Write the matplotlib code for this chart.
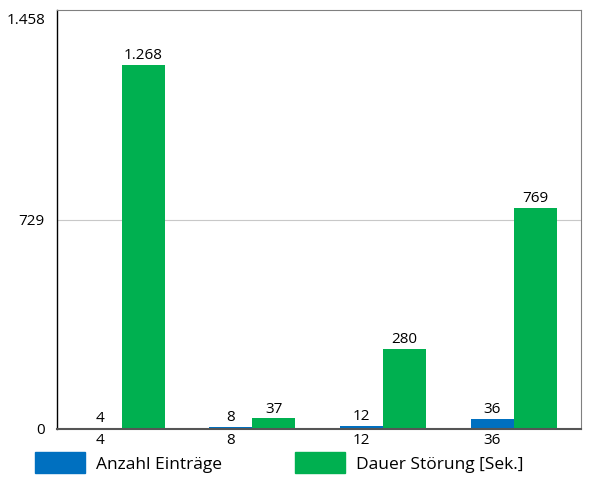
import matplotlib
matplotlib.use("Agg")
import matplotlib.pyplot as plt
from matplotlib.patches import Patch
import numpy as np

categories = ["4", "8", "12", "36"]
anzahl = [4, 8, 12, 36]
dauer = [1268, 37, 280, 769]
yticks = [0, 729, 1458]
ytick_labels = ["0", "729", "1.458"]
series_names = ["Anzahl Einträge", "Dauer Störung [Sek.]"]

blue = "#0070C0"
green = "#00B050"

plt.rcParams['font.family'] = ['Open Sans', 'DejaVu Sans']

def de(v):
    return f"{v:,}".replace(",", ".")

fig = plt.figure(figsize=(5.93, 4.92), dpi=100)
ax = fig.add_axes([57/593, 63/492, (581-57)/593, (429-10)/492])

x = np.arange(len(categories))
w = 0.33
b1 = ax.bar(x, anzahl, width=w, color=blue, align='center')
b2 = ax.bar(x + w/2, dauer, width=w, color=green, align='edge')

for rect, v in zip(b1, anzahl):
    ax.text(rect.get_x() + rect.get_width()/2, rect.get_height() + 6, de(v),
            ha='center', va='bottom', fontsize=11)
for rect, v in zip(b2, dauer):
    ax.text(rect.get_x() + rect.get_width()/2, rect.get_height() + 6, de(v),
            ha='center', va='bottom', fontsize=11)

ax.set_xlim(-0.33, 3.68)
ax.set_ylim(0, 1458)
ax.set_yticks(yticks)
# top label drawn manually (shifted down inside the plot height, as in reference)
ax.set_yticklabels(ytick_labels[:-1] + [""], fontsize=11)
ax.annotate(ytick_labels[-1], xy=(0, yticks[-1]), xycoords=('axes fraction', 'data'),
            xytext=(-12, -11), textcoords='offset pixels', ha='right', va='center',
            fontsize=11, annotation_clip=False)
ax.set_xticks(x)
ax.set_xticklabels(categories, fontsize=11)
ax.tick_params(axis='y', length=0, pad=9)
ax.tick_params(axis='x', length=0, pad=3)
ax.axhline(729, color='#c8c8c8', lw=0.8, zorder=0)

ax.spines['left'].set_color('black')
ax.spines['left'].set_linewidth(1.0)
ax.spines['bottom'].set_color('#555555')
ax.spines['bottom'].set_linewidth(1.5)
ax.spines['top'].set_color('#808080')
ax.spines['right'].set_color('#808080')
ax.spines['top'].set_linewidth(0.8)
ax.spines['right'].set_linewidth(0.8)

handles = [Patch(color=blue), Patch(color=green)]
fig.legend(handles, series_names, loc='lower left', bbox_to_anchor=(19/593, 3/492),
           ncol=2, frameon=False, fontsize=12.5, handlelength=2.9, handleheight=1.5,
           columnspacing=4.2, handletextpad=0.63)

fig.savefig("out.png", dpi=100)
